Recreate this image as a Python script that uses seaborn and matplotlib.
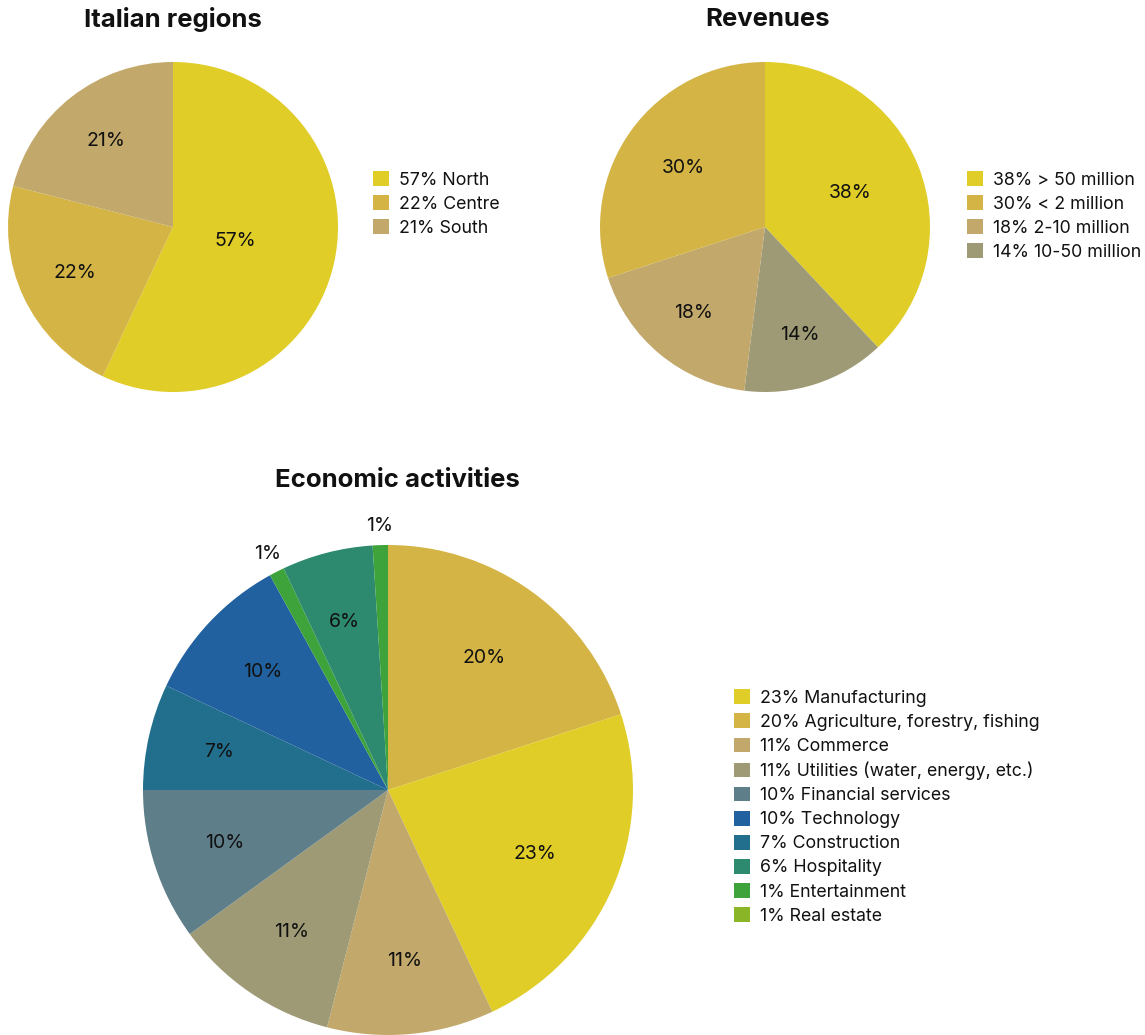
import numpy as np
import matplotlib
matplotlib.use("Agg")
import matplotlib.pyplot as plt
import seaborn as sns

# ---- data -------------------------------------------------------------
region_labels = ["North", "Centre", "South"]
region_values = [57, 22, 21]
region_colors = ["#E0CD28", "#D4B445", "#C2A96B"]

# slices in drawing order (clockwise from 12 o'clock)
revenue_labels = ["> 50 million", "10-50 million", "2-10 million", "< 2 million"]
revenue_values = [38, 14, 18, 30]
revenue_colors = ["#E0CD28", "#9E9A75", "#C2A96B", "#D4B445"]
revenue_legend_order = ["> 50 million", "< 2 million", "2-10 million", "10-50 million"]

activity_labels = ["Agriculture, forestry, fishing", "Manufacturing", "Commerce",
                   "Utilities (water, energy, etc.)", "Financial services",
                   "Construction", "Technology", "Entertainment", "Hospitality",
                   "Real estate"]
activity_values = [20, 23, 11, 11, 10, 7, 10, 1, 6, 1]
activity_colors = ["#D4B445", "#E0CD28", "#C2A96B", "#9E9A75", "#5E7E8A",
                   "#226F8D", "#2161A0", "#3DA33A", "#2E8A6E", "#3DA33A"]
activity_legend_colors = {"Real estate": "#8AB526"}
activity_legend_order = ["Manufacturing", "Agriculture, forestry, fishing", "Commerce",
                         "Utilities (water, energy, etc.)", "Financial services",
                         "Technology", "Construction", "Hospitality",
                         "Entertainment", "Real estate"]

# ---- style ------------------------------------------------------------
sns.set_theme(style="white")
plt.rcParams["font.family"] = ["Inter", "DejaVu Sans"]
TEXT = "#111111"

W, H = 1145, 1035
fig = plt.figure(figsize=(W / 100, H / 100), dpi=100)


def px_axes(cx, cy, r):
    return fig.add_axes([(cx - r) / W, (H - cy - r) / H, 2 * r / W, 2 * r / H])


def draw_pie(ax, values, colors, fontsize):
    wedges, _, autotexts = ax.pie(values, colors=sns.color_palette(colors),
                                  startangle=90, counterclock=False,
                                  autopct="%d%%", radius=1.0,
                                  wedgeprops=dict(linewidth=0),
                                  textprops=dict(fontsize=fontsize, color=TEXT))
    # put each percentage near the slice's centroid; tiny slices get theirs outside
    for w, t, v in zip(wedges, autotexts, values):
        mid = np.deg2rad((w.theta1 + w.theta2) / 2)
        half = np.deg2rad(w.theta2 - w.theta1) / 2
        if v < 2:
            d = 1.08
        else:
            d = 1.07 * 2 * np.sin(half) / (3 * half)
        t.set_position((d * np.cos(mid), d * np.sin(mid)))
        t.set_text(f"{v}%")
        t.set_clip_on(False)
    ax.set_xlim(-1, 1)
    ax.set_ylim(-1, 1)
    ax.set_aspect("auto")
    return wedges


def add_legend(handles, labels, x, y):
    fig.legend(handles, labels, loc="center left",
               bbox_to_anchor=(x / W, 1 - y / H), frameon=False,
               fontsize=12.8, handlelength=0.9, handleheight=0.9,
               handletextpad=0.55, labelspacing=0.37, borderpad=0,
               borderaxespad=0, labelcolor=TEXT)


def square(color):
    return plt.Rectangle((0, 0), 1, 1, facecolor=color, edgecolor="none")


# Italian regions
ax1 = px_axes(173, 227, 165)
draw_pie(ax1, region_values, region_colors, 14)
fig.text(173 / W, 1 - 20 / H, "Italian regions", ha="center", va="center",
         fontsize=18.5, fontweight="bold", color=TEXT)
add_legend([square(c) for c in region_colors],
           [f"{v}% {l}" for v, l in zip(region_values, region_labels)], 373, 204)

# Revenues
ax2 = px_axes(765, 227, 165)
draw_pie(ax2, revenue_values, revenue_colors, 14)
fig.text(768 / W, 1 - 20 / H, "Revenues", ha="center", va="center",
         fontsize=18.5, fontweight="bold", color=TEXT)
rev_map = {l: (v, c) for l, v, c in zip(revenue_labels, revenue_values, revenue_colors)}
add_legend([square(rev_map[l][1]) for l in revenue_legend_order],
           [f"{rev_map[l][0]}% {l}" for l in revenue_legend_order], 967, 216)

# Economic activities
ax3 = px_axes(388, 790, 245)
draw_pie(ax3, activity_values, activity_colors, 14)
fig.text(397 / W, 1 - 480 / H, "Economic activities", ha="center", va="center",
         fontsize=18.5, fontweight="bold", color=TEXT)
act_map = {l: (v, activity_legend_colors.get(l, c))
           for l, v, c in zip(activity_labels, activity_values, activity_colors)}
add_legend([square(act_map[l][1]) for l in activity_legend_order],
           [f"{act_map[l][0]}% {l}" for l in activity_legend_order], 734, 807)

fig.savefig("out.png", dpi=100, facecolor="white")
